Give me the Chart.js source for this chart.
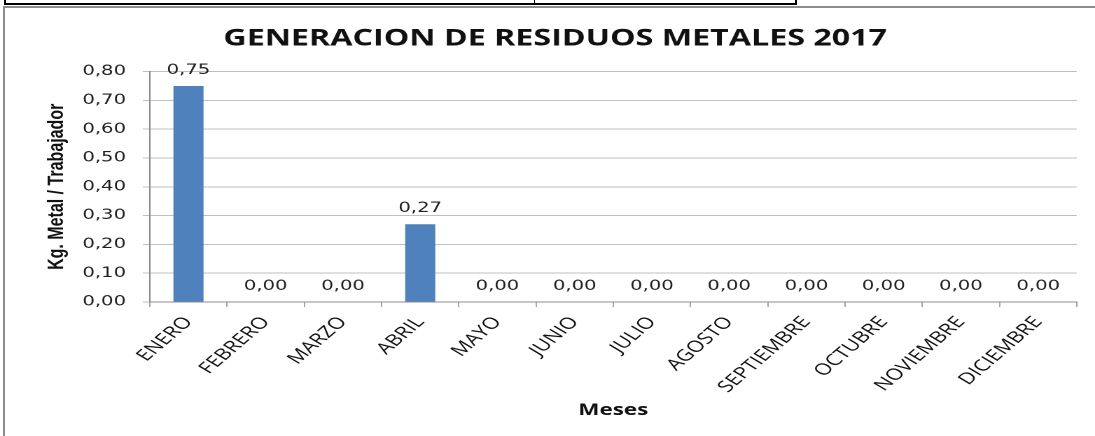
<!DOCTYPE html>
<html>
<head>
<meta charset="utf-8">
<script src="https://cdn.jsdelivr.net/npm/chart.js@4.4.1/dist/chart.umd.min.js"></script>
<style>
  body { margin: 0; background: #fff; overflow: hidden; }
  #wrap { position: relative; width: 1095px; height: 436px; overflow: hidden; }
  /* the source picture is stretched sideways, so the canvas is too */
  #stretch { position: absolute; left: 0; top: 0; width: 782px; height: 436px;
             transform: scaleX(1.40026); transform-origin: 0 0; }
  .ln { position: absolute; }
</style>
</head>
<body>
<div id="wrap">
  <div id="stretch"><canvas id="chart" width="782" height="436"></canvas></div>
  <!-- bits of the table above and the chart frame -->
  <div class="ln" style="left:4px;top:6px;width:1091px;height:2px;background:#8c8c8c"></div>
  <div class="ln" style="left:3px;top:6px;width:2px;height:430px;background:#8c8c8c"></div>
  <div class="ln" style="left:4px;top:3px;width:793px;height:2px;background:#000"></div>
  <div class="ln" style="left:4px;top:0;width:2px;height:5px;background:#000"></div>
  <div class="ln" style="left:534px;top:0;width:1px;height:5px;background:#000"></div>
  <div class="ln" style="left:795px;top:0;width:2px;height:5px;background:#000"></div>
</div>
<script>
const meses = ['ENERO', 'FEBRERO', 'MARZO', 'ABRIL', 'MAYO', 'JUNIO', 'JULIO',
  'AGOSTO', 'SEPTIEMBRE', 'OCTUBRE', 'NOVIEMBRE', 'DICIEMBRE'];
const kgTrabajador = [0.75, 0, 0, 0.27, 0, 0, 0, 0, 0, 0, 0, 0];
const yTicks = [0, 0.1, 0.2, 0.3, 0.4, 0.5, 0.6, 0.7, 0.8];

const coma = v => v.toFixed(2).replace('.', ',');

// etiquetas de valor encima de cada barra
const etiquetas = {
  id: 'etiquetas',
  afterDatasetsDraw(chart) {
    const ctx = chart.ctx;
    const meta = chart.getDatasetMeta(0);
    ctx.save();
    ctx.font = '14px "DejaVu Sans"';
    ctx.fillStyle = '#222';
    ctx.textAlign = 'center';
    ctx.textBaseline = 'alphabetic';
    meta.data.forEach((bar, i) => {
      ctx.fillText(coma(kgTrabajador[i]), bar.x, bar.y - 12);
    });
    ctx.restore();
  }
};

const ctx = document.getElementById('chart');
new Chart(ctx, {
  type: 'bar',
  data: {
    labels: meses,
    datasets: [{
      data: kgTrabajador,
      backgroundColor: '#4F81BD',
      barPercentage: 0.39,
      categoryPercentage: 1
    }]
  },
  options: {
    responsive: false,
    animation: false,
    devicePixelRatio: 2,
    layout: { padding: { left: 24, right: 13, top: 0, bottom: 0 } },
    plugins: {
      legend: { display: false },
      tooltip: { enabled: false },
      title: {
        display: true,
        text: 'GENERACION DE RESIDUOS METALES 2017',
        color: '#111',
        font: { family: 'Open Sans', size: 23, weight: 'bold' },
        padding: { top: 25, bottom: 19 }
      }
    },
    scales: {
      x: {
        grid: { drawOnChartArea: false, drawTicks: true, tickLength: 5, color: '#a6a6a6' },
        border: { color: '#8c8c8c' },
        ticks: {
          color: '#111',
          font: { family: 'Open Sans', size: 16 },
          maxRotation: 50, minRotation: 50,
          padding: 6
        },
        title: {
          display: true,
          text: 'Meses',
          color: '#111',
          font: { family: 'Open Sans', size: 16, weight: 'bold' },
          padding: { top: 0, bottom: 16 }
        },
        afterFit(s) { s.height = 134; }
      },
      y: {
        min: 0, max: 0.8,
        afterBuildTicks(s) { s.ticks = yTicks.map(v => ({ value: v })); },
        grid: { color: '#bfbfbf', tickLength: 5 },
        border: { color: '#8c8c8c' },
        ticks: {
          color: '#222',
          font: { family: 'DejaVu Sans', size: 14 },
          padding: 12,
          callback: v => coma(v)
        },
        title: {
          display: true,
          text: 'Kg. Metal / Trabajador',
          color: '#111',
          font: { family: 'Liberation Sans', size: 16, weight: 'bold' },
          padding: { top: 7, bottom: 0 }
        },
        afterFit(s) { s.width = 83; }
      }
    }
  },
  plugins: [etiquetas]
});
ctx.style.width = '782px';
ctx.style.height = '436px';
</script>
</body>
</html>
